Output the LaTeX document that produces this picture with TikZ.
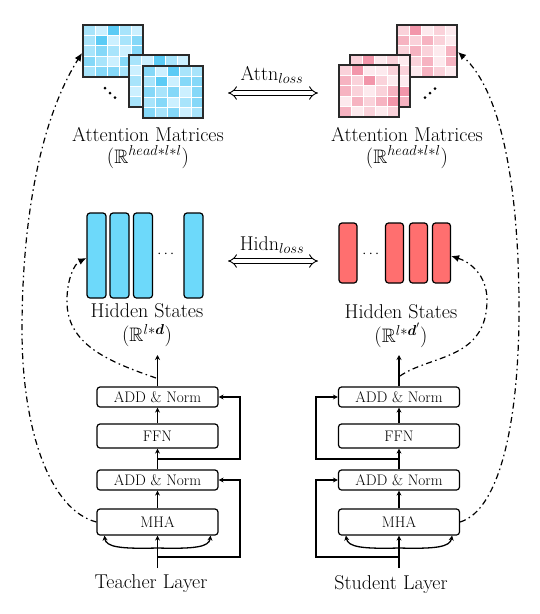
\documentclass[tikz,border=0pt]{standalone}
\usepackage{amsmath,amssymb}
\usetikzlibrary{arrows.meta,calc}
\definecolor{tb0}{HTML}{CCF0FF}
\definecolor{tb1}{HTML}{A8E4FB}
\definecolor{tb2}{HTML}{85D8F8}
\definecolor{tb3}{HTML}{5BCBF5}
\definecolor{sp0}{HTML}{FDEAEE}
\definecolor{sp1}{HTML}{FAD2DA}
\definecolor{sp2}{HTML}{F6B3C1}
\definecolor{sp3}{HTML}{F296AA}
\definecolor{hidblue}{HTML}{6DD9FA}
\definecolor{hidred}{HTML}{FF6F6F}
\definecolor{matborder}{HTML}{2A2A2A}
\newcommand\attmat[4]{%
  \foreach \row [count=\r] in {#4} {
    \foreach \v [count=\c] in \row {
      \filldraw[fill=#3\v, draw=white, line width=0.7pt]
        ({#1+(\c-1)*12},{#2+(\r-1)*10.4}) rectangle ++(12,10.4);
    }
  }
  \draw[matborder, line width=1.4pt] (#1,#2) rectangle ++(60,52);
}
\newcommand\dimline[1]{{\fontsize{19.5}{22}\selectfont$(\mathbb{R}^{#1})$}}
\tikzset{
  blk/.style={draw, line width=1.2pt, rounded corners=3pt, minimum width=121pt, inner sep=0pt, font=\fontsize{15.3}{17}\selectfont},
  arr/.style={line width=1.3pt, -{Stealth[length=5pt,width=5pt]}},
  dd/.style={line width=1.2pt, dash pattern=on 6pt off 3.5pt on 1.5pt off 3.5pt, -{Latex[length=8pt,width=7pt]}},
  lbl/.style={font=\fontsize{20}{22}\selectfont, inner sep=0pt, align=center},
  bar/.style={draw, line width=1.2pt, rounded corners=3pt, minimum width=19pt, inner sep=0pt},
  dbl/.style={double, double distance=3.8pt, line width=0.9pt, {Implies}-{Implies}},
  dotc/.style={fill=black}
}
\begin{document}
\begin{tikzpicture}[x=1pt,y=-1pt]
\useasboundingbox (0,0) rectangle (539,614);

% ---------- attention matrices ----------
\attmat{83}{25}{tb}{{1,0,3,1,0},{1,3,0,1,2},{1,2,1,0,2},{2,1,0,2,1},{1,2,2,1,2}}
\attmat{129}{55}{tb}{{1,0,3,1,0},{0,2,1,1,2},{1,1,2,0,1},{0,2,1,2,0},{1,0,1,1,2}}
\attmat{143}{66}{tb}{{2,0,3,1,1},{1,3,0,2,2},{2,1,2,0,2},{1,2,0,1,2},{2,1,2,0,1}}
\fill[dotc] (105,88) circle (1.5) (110,93) circle (1.5) (115,97.5) circle (1.5);

\attmat{397}{25}{sp}{{1,3,0,1,0},{2,1,2,1,0},{1,2,1,0,2},{0,1,2,0,2},{1,0,2,1,0}}
\attmat{350}{55}{sp}{{1,3,0,1,0},{2,1,0,2,1},{0,1,2,1,0},{1,2,0,1,3},{2,0,1,1,2}}
\attmat{339}{65}{sp}{{1,3,0,0,1},{2,1,3,1,0},{2,1,0,1,2},{0,2,1,2,3},{2,0,1,0,1}}
\fill[dotc] (425,97.5) circle (1.5) (430,93) circle (1.5) (435,88.5) circle (1.5);

\coordinate (tattn) at (82,53);
\coordinate (sattn) at (458,52);

\node[lbl] (tamlbl) at (148,148) {Attention Matrices\\\dimline{head*l*l}};
\node[lbl] (samlbl) at (407,148) {Attention Matrices\\\dimline{head*l*l}};

\node[lbl] (attnloss) at (272,75) {Attn$_{loss}$};
\coordinate (attnL) at (228,93);
\coordinate (attnR) at (318,93);
\draw[dbl] (attnL) -- (attnR);

% ---------- hidden states ----------
\node[bar, fill=hidblue, minimum height=85pt] (th1) at (96.5,255.5) {};
\node[bar, fill=hidblue, minimum height=85pt] (th2) at (119.5,255.5) {};
\node[bar, fill=hidblue, minimum height=85pt] (th3) at (143,255.5) {};
\node[lbl, font=\fontsize{15}{16}\selectfont] (thdots) at (167,254) {$\cdots$};
\node[bar, fill=hidblue, minimum height=85pt] (th4) at (193.5,255.5) {};

\node[bar, fill=hidred, minimum width=18pt, minimum height=60pt] (sh1) at (348,253) {};
\node[lbl, font=\fontsize{15}{16}\selectfont] (shdots) at (372,254) {$\cdots$};
\node[bar, fill=hidred, minimum width=18pt, minimum height=60pt] (sh2) at (394.5,253) {};
\node[bar, fill=hidred, minimum width=18pt, minimum height=60pt] (sh3) at (418.5,253) {};
\node[bar, fill=hidred, minimum width=18pt, minimum height=60pt] (sh4) at (441.5,253) {};

\node[lbl] (thlbl) at (147,325) {Hidden States\\[2.5pt]\dimline{l*\boldsymbol{d}}};
\node[lbl] (shlbl) at (401,326) {Hidden States\\[2.5pt]\dimline{l*\boldsymbol{d}'}};

\node[lbl] (hidnloss) at (272,245) {Hidn$_{loss}$};
\coordinate (hidnL) at (228,261);
\coordinate (hidnR) at (318,261);
\draw[dbl] (hidnL) -- (hidnR);

% ---------- teacher layer ----------
\node[blk, minimum height=20pt] (tan2) at (157.5,397) {ADD \& Norm};
\node[blk, minimum height=24pt] (tffn) at (157.5,436) {FFN};
\node[blk, minimum height=20pt] (tan1) at (157.5,480) {ADD \& Norm};
\node[blk, minimum height=26pt] (tmha) at (157.5,522) {MHA};
\node[lbl] (tlayer) at (151,584) {Teacher Layer};

\coordinate (tin) at (157.5,568);
\coordinate (tskipA) at (157.5,557);
\coordinate (tskipB) at (157.5,459);
\coordinate (tsplit) at (157.5,548);
\coordinate (tout) at (157.5,355);
\coordinate (thid) at (156,378);

\draw[arr] (tin) -- (tmha.south);
\draw[arr] (tmha.north) -- (tan1.south);
\draw[arr] (tan1.north) -- (tffn.south);
\draw[arr] (tffn.north) -- (tan2.south);
\draw[arr] (tan2.north) -- (tout);
\draw[arr] (tskipA) -- ++(82.5,0) |- (tan1.east);
\draw[arr] (tskipB) -- ++(82.5,0) |- (tan2.east);
\draw[arr] (tsplit) .. controls (120,549) and (106,547) .. ($(tmha.south west)+(8,0)$);
\draw[arr] (tsplit) .. controls (195,549) and (209,547) .. ($(tmha.south east)+(-8,0)$);

% ---------- student layer ----------
\node[blk, minimum height=20pt] (san2) at (399,397) {ADD \& Norm};
\node[blk, minimum height=24pt] (sffn) at (399,436) {FFN};
\node[blk, minimum height=20pt] (san1) at (399,480) {ADD \& Norm};
\node[blk, minimum height=26pt] (smha) at (399,522) {MHA};
\node[lbl] (slayer) at (391,585) {Student Layer};

\coordinate (sin) at (399,568);
\coordinate (sskipA) at (399,557);
\coordinate (sskipB) at (399,459);
\coordinate (ssplit) at (399,548);
\coordinate (sout) at (399,355);
\coordinate (shid) at (400,376);

\draw[arr] (sin) -- (smha.south);
\draw[arr] (smha.north) -- (san1.south);
\draw[arr] (san1.north) -- (sffn.south);
\draw[arr] (sffn.north) -- (san2.south);
\draw[arr] (san2.north) -- (sout);
\draw[arr] (sskipA) -- ++(-83,0) |- (san1.west);
\draw[arr] (sskipB) -- ++(-83,0) |- (san2.west);
\draw[arr] (ssplit) .. controls (362,549) and (348,547) .. ($(smha.south west)+(8,0)$);
\draw[arr] (ssplit) .. controls (436,549) and (450,547) .. ($(smha.south east)+(-8,0)$);

% ---------- dash-dot distillation arrows ----------
\draw[dd] (tmha.west) .. controls (50,510) and (22,430) .. (22,330) .. controls (22,220) and (40,120) .. (tattn);
\draw[dd] (thid) .. controls (110,362) and (66,345) .. (67,300) .. controls (67,280) and (74,264) .. (th1.west |- 0,258);
\draw[dd] (smha.east) .. controls (500,510) and (520,420) .. (519,300) .. controls (518,180) and (500,90) .. (sattn);
\draw[dd] (shid) .. controls (430,355) and (487,360) .. (487,300) .. controls (487,275) and (470,262) .. (sh4.east |- 0,256);
\end{tikzpicture}
\end{document}
